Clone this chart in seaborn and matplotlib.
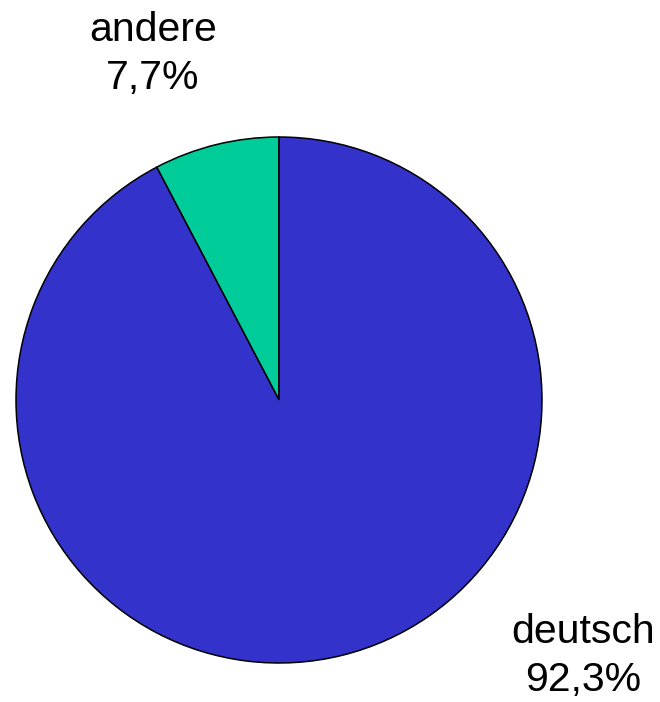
import matplotlib
matplotlib.use("Agg")
import matplotlib.pyplot as plt
import seaborn as sns

# Anteile Sprache
labels = ["andere", "deutsch"]
shares = [7.7, 92.3]
colors = ["#00CC99", "#3333CC"]

sns.set_style("white")
plt.rcParams['font.family'] = ['Liberation Sans', 'DejaVu Sans']

fig = plt.figure(figsize=(6.6, 7.02), dpi=100)
ax = fig.add_axes([0, 0, 1, 1])

ax.pie(shares, colors=colors, startangle=90, counterclock=True,
       wedgeprops={'edgecolor': 'black', 'linewidth': 1.1})

# pie centre at pixel (279, 400), radius 263 px
ax.set_xlim(-279 / 263, (660 - 279) / 263)
ax.set_ylim(-(702 - 400) / 263, 400 / 263)
ax.set_aspect('auto')
ax.axis('off')

label_pos = [(-0.479, 1.315), (1.156, -0.975)]
for lab, val, (x, y) in zip(labels, shares, label_pos):
    txt = f"{lab}\n{val:.1f}%".replace('.', ',')
    ax.text(x, y, txt, ha='center', va='center', fontsize=29.5,
            linespacing=1.33, color='black')

fig.savefig('out.png', dpi=100)
